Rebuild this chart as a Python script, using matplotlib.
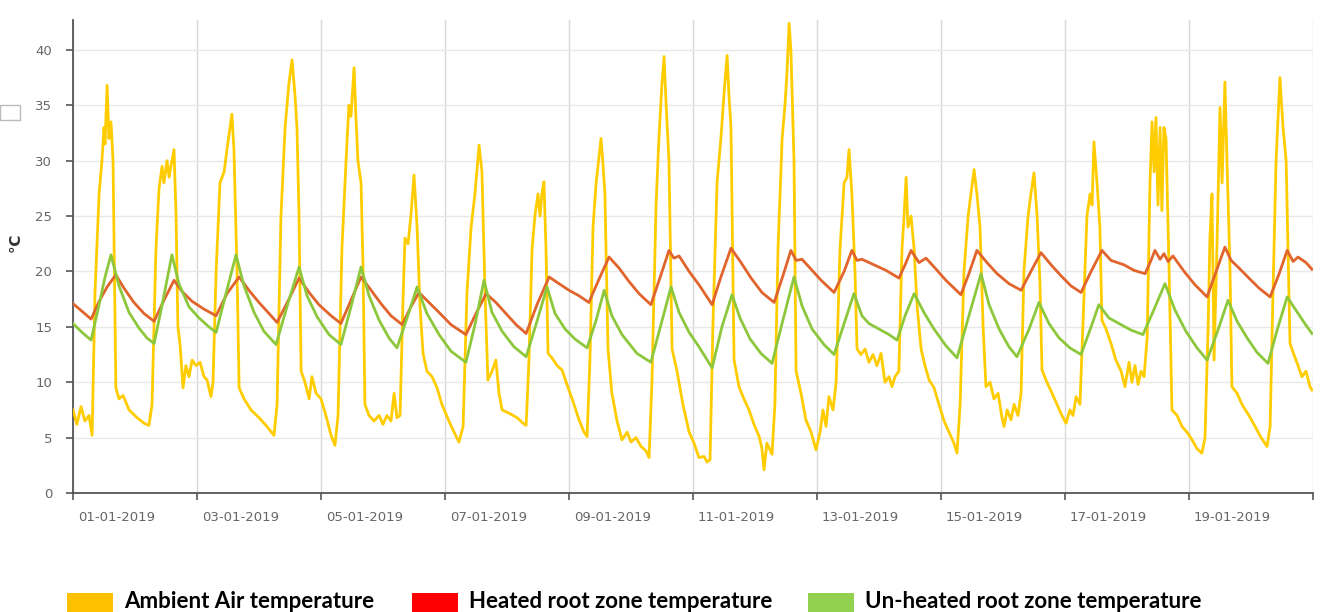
import matplotlib
matplotlib.use("Agg")
import matplotlib.pyplot as plt
import matplotlib.dates as mdates
from matplotlib.patches import Rectangle
from matplotlib.transforms import ScaledTranslation
import numpy as np
import pandas as pd

start = pd.Timestamp("2019-01-01")

# hours since 01-01-2019 00:00 and temperature in degC
ambient_h = [0, 1.5, 3.1, 4.6, 6.2, 7.4, 8.5, 10.1, 11.2, 12.0, 12.4, 13.2, 13.9, 14.7, 15.5, 16.6,
             17.8, 19.4, 21.7, 24.8, 27.5, 29.4, 30.6, 32.1, 33.3, 34.5, 35.2, 36.4, 37.2, 37.9, 39.1,
             39.9, 40.6, 41.4, 42.6, 43.7, 44.9, 46.1, 47.6, 49.2, 50.7, 51.9, 53.4, 54.2, 55.4, 56.9,
             58.5, 59.6, 60.8, 61.5, 62.3, 63.5, 64.3, 66.2, 68.9, 72.0, 75.1, 77.8, 79.0, 80.5, 82.1,
             83.6, 84.8, 85.9, 86.7, 87.5, 88.3, 89.8, 91.4, 92.5, 94.1, 96.0, 97.9, 99.9, 101.4, 102.6,
             104.1, 105.7, 106.8, 107.6, 108.8, 109.5, 110.3, 111.5, 112.3, 113.0, 114.6, 116.5, 118.5,
             120.0, 121.5, 123.1, 124.3, 125.4, 126.6, 127.7, 128.5, 129.7, 130.8, 132.0, 133.2, 134.3,
             135.5, 137.0, 139.0, 140.9, 142.8, 145.5, 147.5, 149.4, 151.0, 152.5, 154.1, 155.6, 157.2,
             158.3, 159.5, 160.6, 162.2, 163.7, 164.9, 166.1, 168.8, 171.9, 174.2, 175.4, 176.5, 177.7,
             178.8, 180.0, 180.8, 181.5, 182.3, 183.1, 183.9, 185.4, 187.4, 189.3, 191.2, 193.2, 195.9,
             197.8, 199.0, 200.1, 201.3, 202.5, 203.2, 204.4, 205.2, 205.9, 207.1, 208.6, 210.6, 212.5,
             214.5, 216.0, 217.9, 219.9, 221.8, 223.0, 224.1, 225.7, 226.8, 228.0, 228.8, 229.6, 230.7,
             231.9, 233.8, 236.1, 238.5, 240.4, 242.3, 244.3, 245.4, 246.6, 247.7, 249.3, 250.8, 252.0,
             253.2, 253.9, 254.7, 255.9, 257.8, 259.7, 261.7, 263.6, 265.6, 266.7, 267.5, 268.6, 270.6,
             271.7, 272.9, 274.5, 275.6, 276.4, 277.2, 277.9, 279.1, 279.9, 281.8, 283.7, 285.7, 287.6,
             289.2, 290.3, 291.5, 292.6, 294.2, 295.4, 296.9, 298.5, 299.6, 300.4, 301.5, 302.7, 303.5,
             305.0, 306.6, 308.1, 309.7, 311.2, 312.8, 314.3, 315.9, 317.0, 318.2, 319.7, 320.9, 321.7,
             322.5, 323.2, 324.4, 325.6, 326.7, 328.3, 329.8, 331.4, 333.3, 335.2, 337.2, 339.1, 341.0,
             342.2, 343.4, 344.9, 346.5, 347.6, 348.8, 349.9, 351.1, 352.3, 353.4, 355.0, 356.5, 358.1,
             359.6, 360.4, 361.6, 363.1, 364.3, 365.8, 367.0, 368.1, 369.7, 370.8, 372.0, 373.2, 374.3,
             375.1, 377.0, 379.0, 380.9, 382.8, 384.4, 385.9, 387.1, 388.3, 389.8, 391.4, 392.5, 393.7,
             394.5, 395.2, 396.4, 397.5, 398.3, 399.9, 401.8, 403.7, 405.7, 407.2, 408.8, 409.9, 411.1,
             412.3, 413.4, 414.6, 415.8, 416.9, 417.7, 418.5, 419.2, 420.0, 420.8, 421.5, 422.3, 423.1,
             424.3, 425.4, 427.4, 429.3, 431.2, 433.2, 435.1, 437.0, 438.2, 439.4, 440.1, 440.9, 441.7,
             442.8, 444.0, 444.8, 445.9, 446.7, 447.9, 448.6, 450.6, 452.5, 455.2, 457.6, 459.9, 462.2,
             463.4, 464.5, 465.7, 466.5, 467.2, 468.4, 469.6, 471.1, 472.6, 474.2, 475.7, 477.3, 478.8,
             479.6]
ambient_t = [7.5, 6.2, 7.8, 6.5, 7.0, 5.2, 18, 27, 30, 33, 31.5, 36.8, 32, 33.5, 30, 9.5,
             8.5, 8.8, 7.5, 6.8, 6.3, 6.1, 8, 22, 27.5, 29.5, 28, 30, 28.5, 29.5, 31,
             25, 15, 13.5, 9.5, 11.5, 10.5, 12, 11.5, 11.8, 10.5, 10.2, 8.7, 10, 20, 28,
             29, 31, 33, 34.2, 31, 20, 9.5, 8.5, 7.5, 6.8, 6, 5.2, 8, 25, 33,
             37, 39.1, 36, 33, 25, 11, 10, 8.5, 10.5, 9, 8.5, 7, 5.2, 4.3, 7,
             22, 30, 35, 34, 38.4, 34, 30, 28, 20, 8, 7, 6.5, 7,
             6.2, 7, 6.5, 9, 6.8, 7, 17, 23, 22.5, 25, 28.7, 24, 17,
             12.6, 11, 10.5, 9.5, 8, 6.5, 5.5, 4.6, 6, 18, 24, 27, 31.4,
             29, 18, 10.2, 11, 12, 9, 7.5, 7.2, 6.8, 6.3, 6.1, 12, 22,
             25, 27, 25, 27, 28.1, 22, 12.6, 12.2, 11.5, 11.1, 9.8, 8.5, 6.6,
             5.5, 5.1, 12, 24, 28, 29.5, 32, 29.5, 27, 13, 9, 6.5, 4.8,
             5.5, 4.6, 5, 4.2, 3.8, 3.2, 10, 26, 32, 37, 39.4, 35, 30,
             13, 11, 8, 5.5, 4.5, 3.2, 3.3, 2.8, 3.0, 15, 28, 32, 36,
             39.5, 36, 33, 12, 9.6, 8.5, 7.5, 6.2, 5.1, 4, 2.1, 4.5, 3.5,
             8, 22, 32, 35, 38, 42.4, 40, 30, 11, 9, 6.6, 5.5, 3.9,
             5.5, 7.5, 6, 8.7, 7.5, 10, 22, 28, 28.5, 31, 27, 20, 13,
             12.5, 13, 11.8, 12.5, 11.5, 12.6, 10, 10.5, 9.6, 10.5, 11, 22, 25,
             28.5, 24, 25, 22, 17, 13, 11.5, 10.2, 9.5, 8, 6.5, 5.5, 4.5,
             3.6, 8, 20, 25, 27, 29.2, 27, 24, 15, 9.6, 10, 8.5, 9,
             6.8, 6.0, 7.5, 6.6, 8, 7, 9, 20, 25, 27, 28.9, 25, 19,
             11.1, 10, 9, 8, 7, 6.3, 7.5, 7, 8.7, 8, 18, 25, 27,
             26, 31.7, 28, 24, 15.6, 14.8, 13.5, 12, 11, 9.6, 11.8, 10, 11.5,
             9.8, 11, 10.5, 14, 28, 33.5, 29, 33.9, 26, 33, 25.5, 33, 32,
             20, 7.5, 7, 6, 5.5, 4.8, 4, 3.6, 5, 15, 23, 27, 12,
             22, 34.8, 28, 37.1, 30, 20, 9.6, 9, 8, 7, 6, 5, 4.2,
             6, 18, 30, 34, 37.5, 33, 30, 13.5, 12.5, 11.5, 10.5, 11, 9.6,
             9.3]

heated_h = [0, 3.5, 7.0, 10.1, 13.2, 16.6, 19.7, 23.6, 27.5, 31.4, 35.2, 39.1, 42.2, 46.1, 50.7,
            55.4, 59.6, 64.3, 68.1, 72.0, 75.9, 79.0, 83.6, 87.5, 91.4, 95.2, 99.9, 103.7, 107.6,
            111.5, 115.4, 119.2, 123.1, 127.4, 130.8, 133.9, 137.8, 141.7, 146.3, 152.1, 156.0,
            159.9, 163.7, 167.6, 171.5, 175.4, 179.6, 184.3, 188.1, 192.0, 195.9, 199.7, 203.6,
            207.5, 211.4, 215.2, 219.1, 223.7, 227.6, 230.7, 232.6, 234.6, 238.5, 242.3, 247.4,
            250.8, 254.7, 258.6, 262.5, 266.7, 271.4, 274.8, 277.9, 279.9, 282.2, 285.7, 289.6,
            294.6, 298.5, 301.5, 303.5, 305.4, 310.1, 314.7, 319.7, 322.1, 324.4, 327.5, 330.2,
            334.1, 337.9, 343.7, 346.8, 349.9, 353.8, 357.7, 362.3, 367.0, 370.8, 374.7, 378.6,
            382.5, 386.3, 390.2, 394.1, 398.3, 401.8, 406.8, 410.7, 415.0, 417.3, 418.8, 420.8,
            422.3, 423.9, 425.8, 430.1, 434.3, 439.0, 442.5, 445.9, 448.3, 451.4, 455.2, 459.1,
            463.4, 466.9, 470.0, 472.3, 474.2, 477.3, 479.6]
heated_t = [17.1, 16.4, 15.7, 17.3, 18.6, 19.7, 18.5, 17.2, 16.2, 15.5, 17.4, 19.2, 18.2, 17.3, 16.6,
            16.0, 18.0, 19.5, 18.3, 17.2, 16.2, 15.4, 17.5, 19.4, 18.1, 17.0, 16.0, 15.3, 17.4,
            19.5, 18.3, 17.1, 16.0, 15.2, 16.8, 18.1, 17.2, 16.3, 15.2, 14.3, 16.2,
            18.0, 17.2, 16.2, 15.2, 14.4, 17.0, 19.5, 18.9, 18.3, 17.8, 17.2, 19.3,
            21.3, 20.3, 19.1, 18.0, 17.0, 19.7, 21.9, 21.2, 21.4, 20.0, 18.8, 17.0,
            19.5, 22.1, 20.8, 19.4, 18.1, 17.2, 19.6, 21.9, 21.0, 21.1, 20.2, 19.2,
            18.1, 20.0, 21.9, 21.0, 21.1, 20.6, 20.1, 19.4, 20.6, 21.9, 20.8, 21.2,
            20.2, 19.2, 17.9, 19.8, 21.9, 20.8, 19.8, 18.9, 18.3, 20.0, 21.7, 20.6,
            19.6, 18.7, 18.1, 20.0, 21.9, 21.0, 20.6, 20.1, 19.8, 21.0, 21.9, 21.1,
            21.6, 20.9, 21.4, 20.0, 18.8, 17.7, 20.0, 22.2, 21.0, 20.3, 19.4, 18.5,
            17.7, 19.8, 21.9, 20.9, 21.3, 20.8, 20.2]

unheated_h = [0, 3.5, 7.0, 10.1, 12.4, 14.7, 17.8, 21.7, 25.5, 28.6, 31.4, 34.5, 38.3, 41.0, 44.9,
              48.8, 52.6, 55.4, 59.2, 63.1, 66.2, 70.1, 73.9, 78.6, 82.8, 87.5, 90.6, 94.5, 99.1,
              103.7, 107.6, 111.5, 114.6, 118.5, 122.3, 125.4, 129.3, 133.2, 137.0, 141.7, 146.3,
              152.1, 155.6, 159.1, 162.2, 166.1, 170.7, 175.4, 179.6, 183.5, 186.6, 190.5, 194.3,
              199.0, 202.5, 205.6, 208.6, 212.5, 218.3, 223.7, 227.6, 231.5, 234.6, 238.5, 242.3,
              247.4, 251.2, 255.1, 258.2, 262.1, 266.3, 270.6, 274.8, 279.1, 282.2, 286.1, 290.7,
              294.6, 298.5, 302.3, 305.4, 308.1, 312.0, 315.9, 319.0, 322.1, 325.6, 329.4, 333.3,
              337.9, 342.2, 346.8, 351.5, 354.6, 358.5, 362.3, 365.4, 370.1, 373.9, 377.8, 381.7,
              385.9, 390.2, 394.1, 397.1, 401.0, 404.9, 409.6, 414.2, 418.5, 422.7, 426.6, 430.8,
              435.1, 439.0, 443.2, 447.1, 450.6, 454.5, 458.3, 462.6, 466.1, 470.0, 473.4, 477.1,
              479.6]
unheated_t = [15.3, 14.5, 13.8, 17.0, 19.5, 21.5, 18.7, 16.3, 14.9, 14.0, 13.5, 17.0, 21.5, 18.9, 16.8,
              15.8, 15.0, 14.5, 18.0, 21.5, 18.7, 16.3, 14.6, 13.4, 16.8, 20.4, 17.8, 15.9, 14.3,
              13.4, 16.8, 20.4, 17.8, 15.6, 14.0, 13.1, 15.8, 18.6, 16.2, 14.3, 12.8,
              11.8, 15.2, 19.2, 16.3, 14.6, 13.2, 12.3, 15.5, 18.6, 16.2, 14.8, 13.9,
              13.1, 15.6, 18.3, 16.0, 14.3, 12.6, 11.8, 15.2, 18.6, 16.3, 14.5, 13.2,
              11.3, 15.0, 17.9, 15.8, 13.9, 12.6, 11.7, 15.6, 19.5, 16.9, 14.8, 13.4,
              12.5, 15.3, 18.0, 16.0, 15.3, 14.8, 14.3, 13.8, 16.0, 18.0, 16.3, 14.8,
              13.3, 12.2, 16.0, 19.8, 17.0, 14.8, 13.2, 12.3, 14.8, 17.2, 15.3, 14.0,
              13.1, 12.5, 15.0, 17.0, 15.8, 15.3, 14.7, 14.3, 16.6, 18.9, 16.5, 14.6,
              13.1, 12.0, 14.7, 17.4, 15.5, 14.0, 12.7, 11.7, 14.7, 17.7, 16.5, 15.2,
              14.4]

labels = ["Ambient Air temperature", "Heated root zone temperature", "Un-heated root zone temperature"]
legend_colors = ["#FFC000", "#FF0000", "#92D050"]
line_colors = ["#FFCC00", "#E0642C", "#8DC83C"]


def to_dates(hours):
    return start + pd.to_timedelta(np.array(hours), unit="h")


fig = plt.figure(figsize=(13.26, 6.12), dpi=100)
ax = fig.add_axes([73 / 1326, 1 - 493 / 612, 1240 / 1326, 473 / 612])

ax.plot(to_dates(ambient_h), ambient_t, color=line_colors[0], lw=2.0, zorder=3)
ax.plot(to_dates(heated_h), heated_t, color=line_colors[1], lw=2.0, zorder=4)
ax.plot(to_dates(unheated_h), unheated_t, color=line_colors[2], lw=2.0, zorder=5)

ax.set_xlim(start, start + pd.Timedelta(days=20))
ax.set_ylim(0, 42.7)
ax.set_yticks(range(0, 45, 5))

xt = pd.date_range("2019-01-01", "2019-01-21", freq="2D")
ax.set_xticks(xt)
ax.set_xticklabels([d.strftime("%d-%m-%Y") for d in xt[:-1]] + [""], ha="left")

ax.grid(True, axis="y", color="#e8e8e8", lw=1.0, zorder=0)
ax.grid(True, axis="x", color="#d8d8d8", lw=1.0, zorder=0)
ax.set_axisbelow(True)
for s in ["top", "right"]:
    ax.spines[s].set_visible(False)
for s in ["left", "bottom"]:
    ax.spines[s].set_color("#555555")
    ax.spines[s].set_linewidth(1.3)
ax.tick_params(axis="both", colors="#555555", labelcolor="#666666", labelsize=9.5, length=5, width=1.2)
ax.tick_params(axis="x", pad=8)
ax.tick_params(axis="y", pad=10)
shift = ScaledTranslation(5 / 100, 0, fig.dpi_scale_trans)
for lab in ax.get_xticklabels():
    lab.set_transform(lab.get_transform() + shift)

ax.set_ylabel("\u2103", fontsize=11, color="#333333", fontweight="bold")
ax.yaxis.set_label_coords(-0.041, 0.53)

# legend drawn beneath the axes
lx = [67, 412, 808]
for x0, c, lab in zip(lx, legend_colors, labels):
    fig.patches.append(Rectangle((x0 / 1326, 0), 46 / 1326, 19 / 612, transform=fig.transFigure,
                                 facecolor=c, edgecolor="none"))
    fig.text((x0 + 57) / 1326, 10 / 612, lab, fontsize=16, fontweight="bold", family="Lato",
             va="center", ha="left", color="black")

# small empty box at left edge
fig.patches.append(Rectangle((0, 1 - 120 / 612), 20 / 1326, 15 / 612, transform=fig.transFigure,
                             facecolor="white", edgecolor="#bbbbbb", lw=1.0))

fig.savefig("out.png", dpi=100)
